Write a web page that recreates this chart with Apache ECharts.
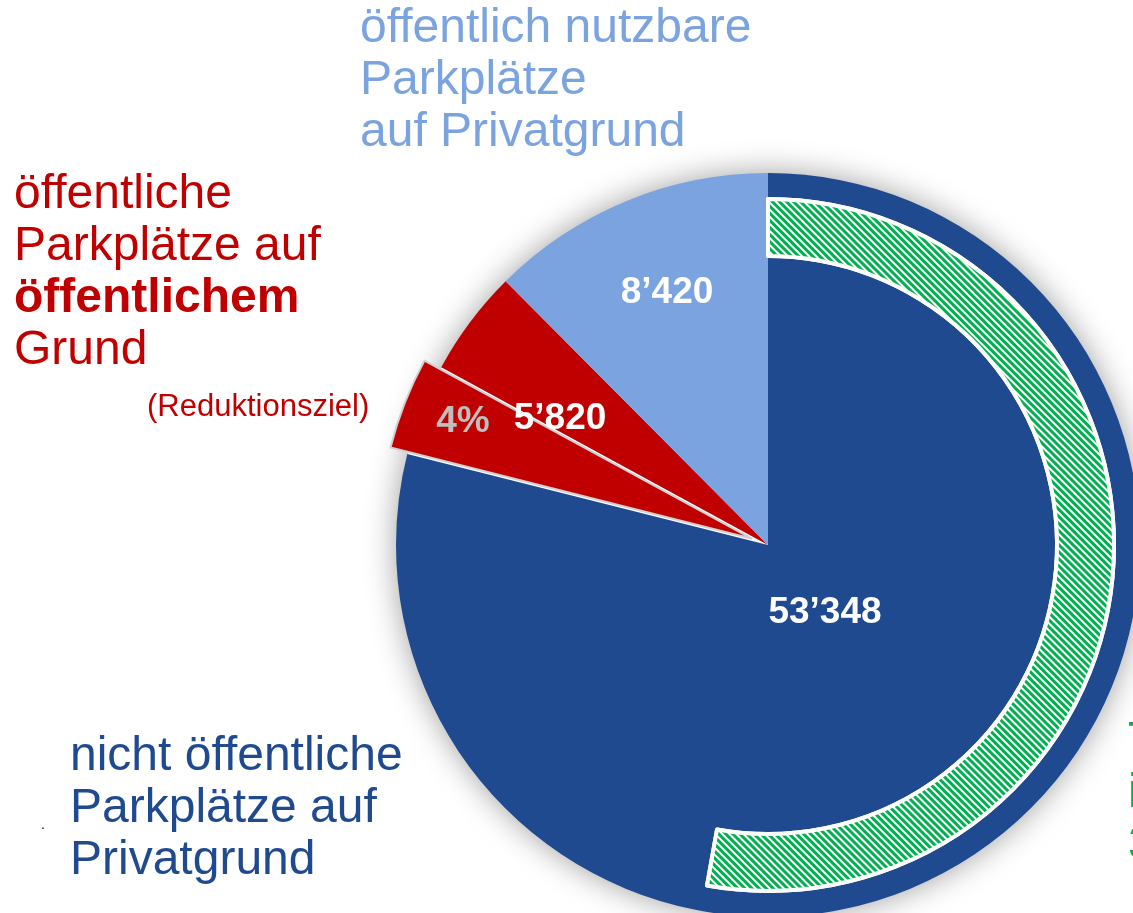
<!DOCTYPE html>
<html>
<head>
<meta charset="utf-8">
<script src="https://cdn.jsdelivr.net/npm/echarts@6/dist/echarts.min.js"></script>
<style>
  html, body { margin: 0; padding: 0; background: #fff; }
  #chart { width: 1133px; height: 913px; }
</style>
</head>
<body>
<div id="chart"></div>
<script>
  // Parkplätze: Anteile (clockwise ab 12 Uhr)
  var sliceNames = ['nicht öffentlich, Privatgrund', 'Reduktionsziel 4%', 'öffentlich, öffentlicher Grund', 'öffentlich nutzbar, Privatgrund'];
  var sliceValues = [53348, 2704, 3116, 8420];
  var sliceColors = ['#1F4A8F', '#C00000', '#C00000', '#7BA3E0'];

  // grüner schraffierter Ring (Anteil innerhalb der nicht öffentlichen Parkplätze)
  var ringNames = ['Anteil', 'Rest'];
  var ringValues = [35700, 31888];

  // Beschriftungen
  var valueLabels = ["8’420", "5’820", "4%", "53’348"];

  var font = '"Liberation Sans", Arial, sans-serif';
  var chart = echarts.init(document.getElementById('chart'));

  var option = {
    backgroundColor: '#fff',
    animation: false,
    graphic: [
      // Schatten unter dem Kreis
      {
        type: 'circle', z: -10,
        shape: { cx: 768, cy: 545, r: 371 },
        style: { fill: '#fff', shadowBlur: 32, shadowColor: 'rgba(0,0,0,0.4)' }
      },
      {
        type: 'text', left: 360, top: 3, z: 10,
        style: {
          text: 'öffentlich nutzbare\nParkplätze\nauf Privatgrund',
          font: '48px ' + font, fill: '#7BA3E0', lineHeight: 52
        }
      },
      {
        type: 'text', left: 14, top: 169, z: 10,
        style: {
          text: 'öffentliche\nParkplätze auf\n{b|öffentlichem}\nGrund',
          font: '48px ' + font, fill: '#C00000', lineHeight: 52,
          rich: { b: { fontWeight: 'bold', fontSize: 48, fontFamily: font, fill: '#C00000', lineHeight: 52 } }
        }
      },
      {
        type: 'text', left: 147, top: 392, z: 10,
        style: { text: '(Reduktionsziel)', font: '31px ' + font, fill: '#C00000' }
      },
      {
        type: 'text', left: 70, top: 731, z: 10,
        style: {
          text: 'nicht öffentliche\nParkplätze auf\nPrivatgrund',
          font: '48px ' + font, fill: '#1F4A8F', lineHeight: 52
        }
      },
      {
        type: 'text', left: 1128, top: 716, z: 10,
        style: {
          text: 'Tiefgaragen\nim Privatgrund\n35’700',
          font: '48px ' + font, fill: '#00B050', lineHeight: 52
        }
      },
      {
        type: 'text', left: 41, top: 818, z: 10,
        style: { text: '.', font: '14px ' + font, fill: '#000' }
      },
      {
        type: 'text', x: 667, y: 293, z: 10,
        style: { text: valueLabels[0], font: 'bold 37px ' + font, fill: '#fff', align: 'center', verticalAlign: 'middle' }
      },
      {
        type: 'text', x: 560, y: 419, z: 10,
        style: { text: valueLabels[1], font: 'bold 37px ' + font, fill: '#fff', align: 'center', verticalAlign: 'middle' }
      },
      {
        type: 'text', x: 463, y: 422, z: 10,
        style: { text: valueLabels[2], font: 'bold 37px ' + font, fill: '#BFBFBF', align: 'center', verticalAlign: 'middle' }
      },
      {
        type: 'text', x: 825, y: 613, z: 10,
        style: { text: valueLabels[3], font: 'bold 37px ' + font, fill: '#fff', align: 'center', verticalAlign: 'middle' }
      }
    ],
    series: [
      {
        type: 'pie',
        z: 2,
        center: [768, 545],
        radius: [0, 372],
        startAngle: 90,
        clockwise: true,
        selectedMode: 'multiple',
        selectedOffset: 18,
        label: { show: false },
        labelLine: { show: false },
        emphasis: { disabled: true },
        data: sliceValues.map(function (v, i) {
          var item = {
            name: sliceNames[i],
            value: v,
            itemStyle: { color: sliceColors[i], borderWidth: 0 }
          };
          if (i === 1) {
            item.selected = true;
            item.itemStyle.borderColor = '#D0D0D0';
            item.itemStyle.borderWidth = 2;
          }
          return item;
        })
      },
      {
        type: 'pie',
        z: 3,
        center: [768, 545],
        radius: [289, 346],
        startAngle: 90,
        clockwise: true,
        label: { show: false },
        labelLine: { show: false },
        emphasis: { disabled: true },
        data: [
          {
            name: ringNames[0], value: ringValues[0],
            itemStyle: {
              color: '#fff',
              borderColor: '#fff',
              borderWidth: 4,
              decal: {
                symbol: 'rect',
                color: '#00B050',
                backgroundColor: '#fff',
                dashArrayX: [1, 0],
                dashArrayY: [3, 2],
                rotation: Math.PI / 4
              }
            }
          },
          {
            name: ringNames[1], value: ringValues[1],
            itemStyle: { color: 'rgba(0,0,0,0)', borderWidth: 0 }
          }
        ]
      }
    ]
  };
  chart.setOption(option);
</script>
</body>
</html>
